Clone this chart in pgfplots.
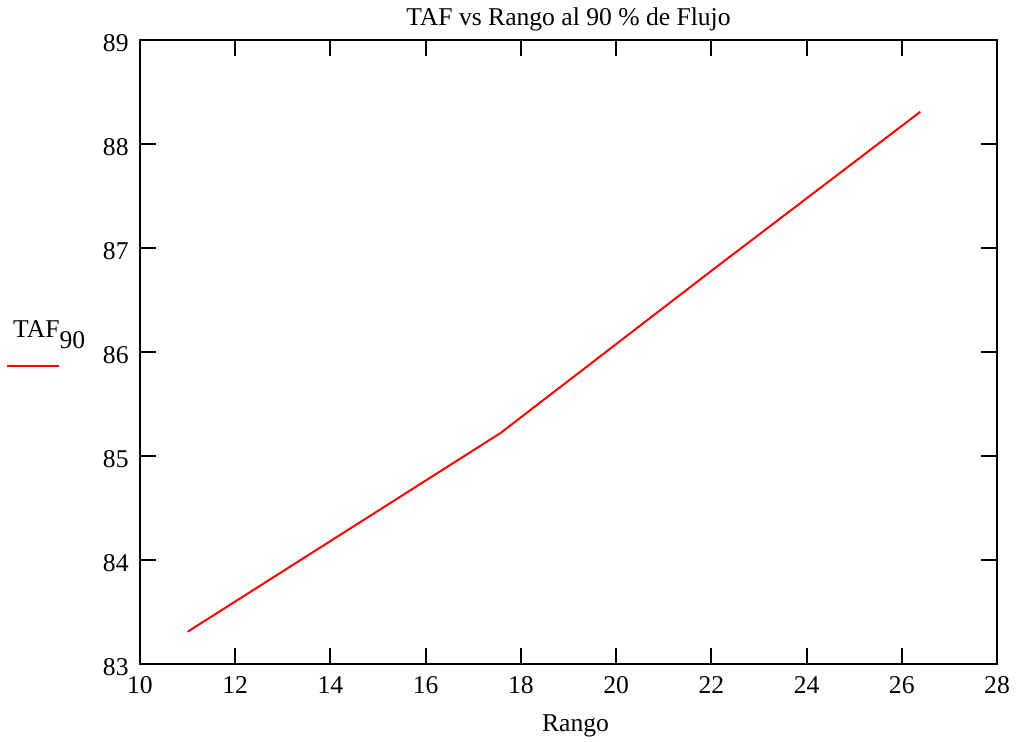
\documentclass[border=0pt]{standalone}
\usepackage{pgfplots}
\pgfplotsset{compat=1.18}
\usepackage{fontspec}
\setmainfont{Liberation Serif}
\begin{document}
\fontsize{12.8}{15}\selectfont
\begin{tikzpicture}
\begin{axis}[
  name=ax,
  at={(0,0)}, anchor=south west,
  scale only axis,
  width=428.5pt, height=312pt,
  xmin=10, xmax=28, ymin=83, ymax=89,
  xtick={10,12,...,28}, ytick={83,84,...,89},
  axis line style={line width=1pt},
  major tick length=8pt,
  tick style={line width=1pt, black},
  tick align=inside,
  xtick pos=both, ytick pos=both,
  /pgf/number format/assume math mode=true,
  xticklabel style={anchor=base, inner sep=0pt, yshift=-15pt},
  yticklabel style={anchor=base east, inner sep=0pt, xshift=-5.5pt, yshift=-5.9pt},
  every axis title shift=0pt,
  title={TAF vs Rango al 90 \% de Flujo},
  title style={at={(0.5,1)}, anchor=base, inner sep=0pt, yshift=7.2pt},
  xlabel={Rango},
  xlabel style={at={(0.5,0)}, anchor=base, inner sep=0pt, yshift=-33.9pt, xshift=3.5pt},
]
\addplot[red, line width=1pt] coordinates {
  (11.0, 83.31) (17.57, 85.22) (22.0, 86.78) (26.39, 88.31)
};
\end{axis}
\node[anchor=base west, inner sep=0pt] at ([xshift=-63.6pt, yshift=-148.6pt]ax.north west) {TAF\raisebox{-5.5pt}{90}};
\draw[red, line width=1pt] ([xshift=-66.5pt, yshift=-162.9pt]ax.north west) -- ++(26pt,0);
\path (-70pt,-38.85pt) rectangle (439pt,332pt);
\end{tikzpicture}
\end{document}
